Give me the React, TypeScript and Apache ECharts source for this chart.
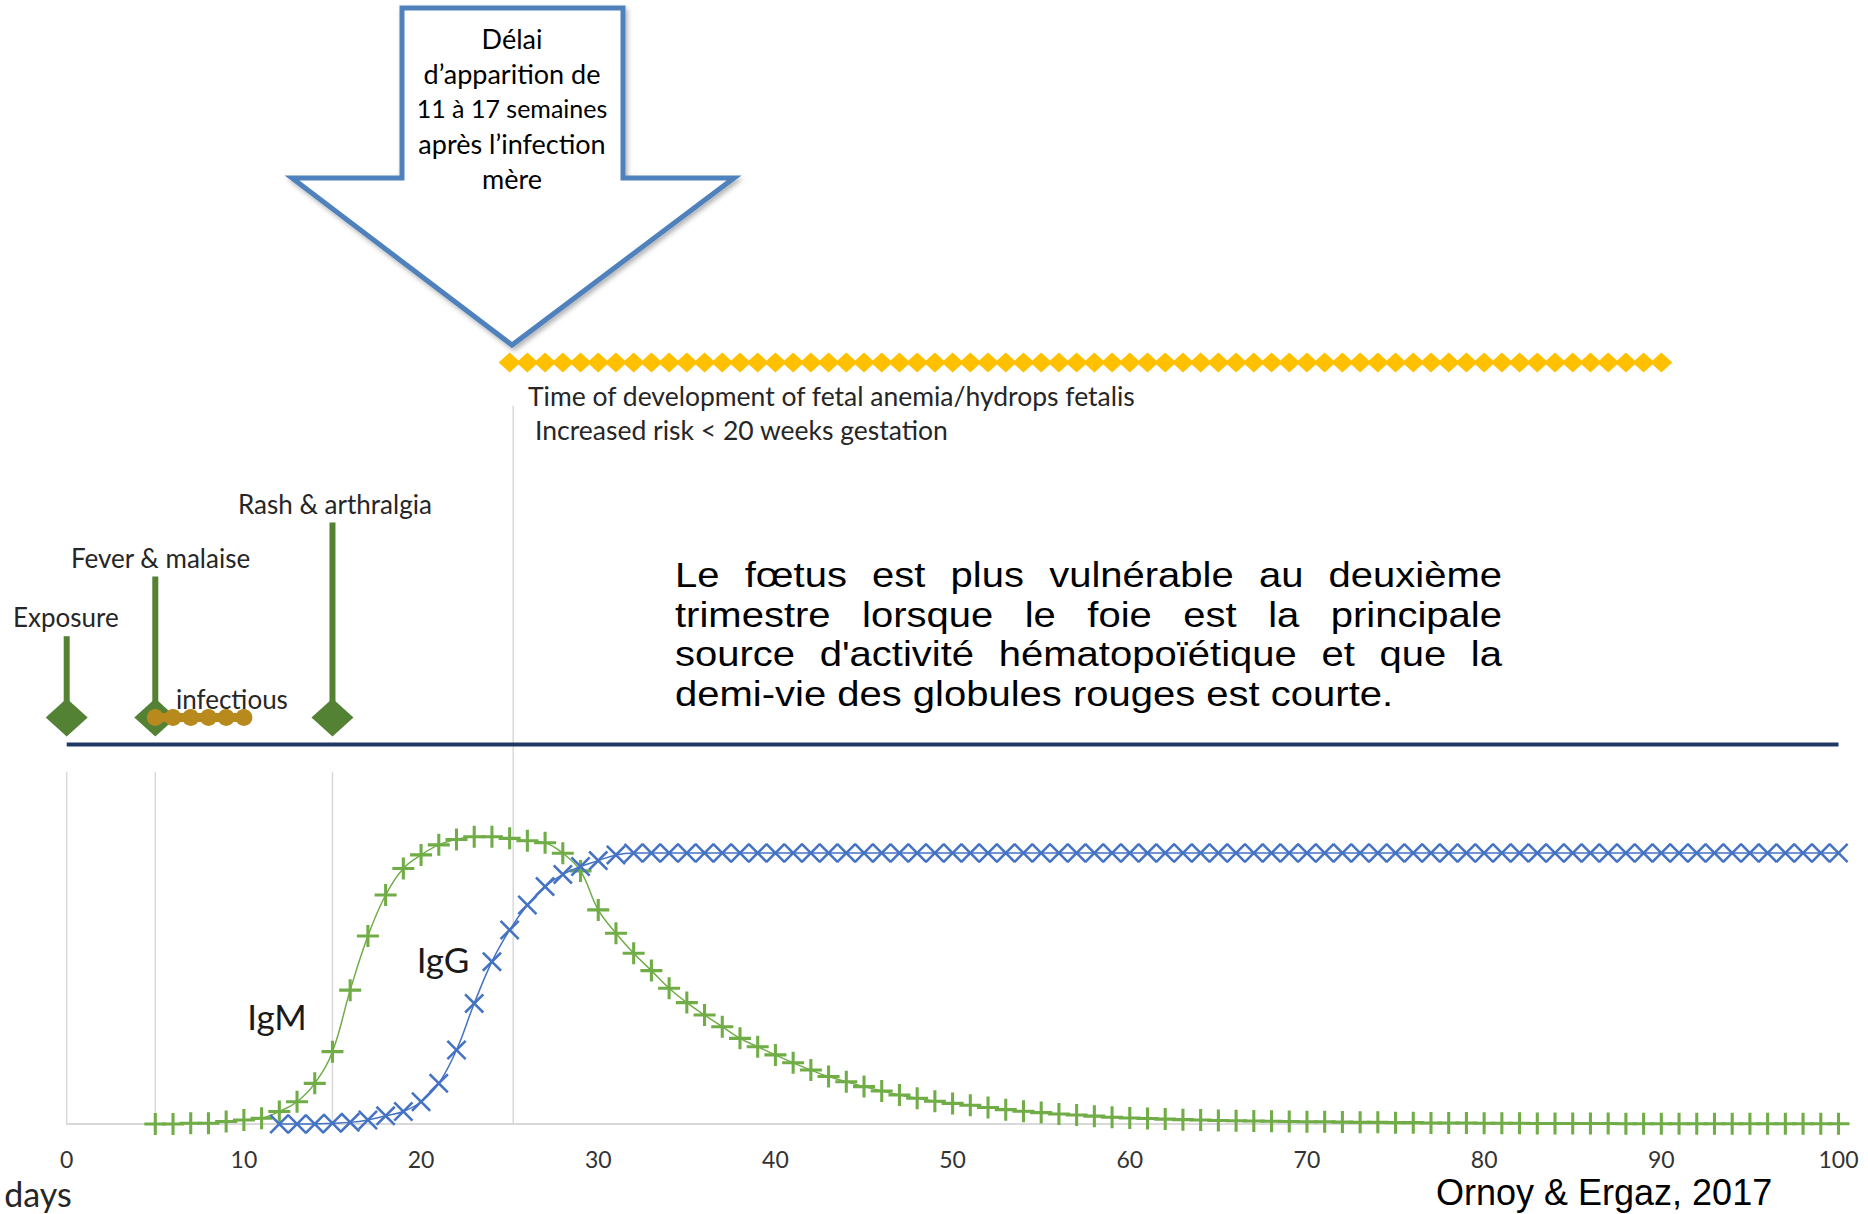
import React, { useEffect, useRef } from "react";
import * as echarts from "echarts";

// ---------- data ----------
const xMin = 0;
const xMax = 100;
const xStep = 10;

// IgM level, one value per day starting at day 5
const igmFirstDay = 5;
const igmValues = [
  0, 0, 0.3, 0.3, 0.9, 1.5, 2.1, 4.6, 8.2, 15, // 5-14
  26.7, 49.4, 69.4, 84.5, 94.3, 99.3, 103, 105, 106, 106, // 15-24
  105.4, 104.5, 103.8, 99.9, 93.4, 79, 70.4, 63, 56.6, 50.1, // 25-34
  44.8, 40.2, 35.9, 31.6, 28.5, 25.5, 22.6, 19.9, 17.5, 15.6, // 35-44
  13.8, 12.2, 10.7, 9.5, 8.4, 7.6, 6.9, 6.1, 5.3, 4.7, // 45-54
  4.2, 3.7, 3.3, 2.9, 2.5, 2.2, 2.0, 1.8, 1.6, 1.5, // 55-64
  1.3, 1.2, 1.1, 1.0, 0.9, 0.8, 0.8, 0.7, 0.6, 0.6, // 65-74
  0.5, 0.5, 0.4, 0.4, 0.4, 0.3, 0.3, 0.3, 0.2, 0.2, // 75-84
  0.2, 0.2, 0.2, 0.1, 0.1, 0.1, 0.1, 0.1, 0.1, 0.1, // 85-94
  0.1, 0.1, 0.1, 0.1, 0.1, 0.1, // 95-100
];

// IgG level, one value per day starting at day 12
const iggFirstDay = 12;
const iggValues = [
  0, 0, 0, 0.3, 0.6, 1.5, 3.0, 4.6, 8.2, 15, // 12-21
  27.3, 44.5, 59.9, 71.6, 80.8, 87.6, 92.1, 95, 97.2, 99.3, // 22-31
  100, 100, 100, 100, 100, 100, 100, 100, 100, 100, // 32-41
  100, 100, 100, 100, 100, 100, 100, 100, 100, 100, // 42-51
  100, 100, 100, 100, 100, 100, 100, 100, 100, 100, // 52-61
  100, 100, 100, 100, 100, 100, 100, 100, 100, 100, // 62-71
  100, 100, 100, 100, 100, 100, 100, 100, 100, 100, // 72-81
  100, 100, 100, 100, 100, 100, 100, 100, 100, 100, // 82-91
  100, 100, 100, 100, 100, 100, 100, 100, 100, // 92-100
];

// clinical events (timeline above the antibody curves)
const eventDays = [0, 5, 15];
const eventNames = ["Exposure", "Fever & malaise", "Rash & arthralgia"];
const eventStemTops = [180, 202, 222];
const eventLevel = 150;

const infectiousDays = [5, 6, 7, 8, 9, 10];
const infectiousLevel = 150;

const timelineStart = 0;
const timelineEnd = 100;
const timelineLevel = 140;

const anemiaFirstDay = 25;
const anemiaLastDay = 90;
const anemiaLevel = 281;

const guideDays = [0, 5, 15, 25.2];
const guideTops = [130, 130, 130, 265];

const arrowLines = ["Délai", "d\u2019apparition de", "11 à 17 semaines", "après l\u2019infection", "mère"];
const anemiaTitle = "Time of development of fetal anemia/hydrops fetalis";
const anemiaSubtitle = "Increased risk < 20 weeks gestation";
const paragraphLines = [
  "Le fœtus est plus vulnérable au deuxième",
  "trimestre lorsque le foie est la principale",
  "source d'activité hématopoïétique et que la",
  "demi-vie des globules rouges est courte.",
];
const citation = "Ornoy & Ergaz, 2017";

// ---------- styling ----------
const CAL = "Lato";
const ARIAL = "Liberation Sans";
const GREEN = "#70AD47";
const BLUE = "#4472C4";
const DARK_GREEN = "#548235";
const GOLD = "#B8891C";
const YELLOW = "#FFC000";
const NAVY = "#203864";
const GRID_GRAY = "#D9D9D9";

const PLUS = "path://M8.6,0L11.4,0L11.4,8.6L20,8.6L20,11.4L11.4,11.4L11.4,20L8.6,20L8.6,11.4L0,11.4L0,8.6L8.6,8.6Z";
const CROSS = "path://M0,1.8L1.8,0L10,8.2L18.2,0L20,1.8L11.8,10L20,18.2L18.2,20L10,11.8L1.8,20L0,18.2L8.2,10Z";

function txt(
  text: string,
  x: number,
  y: number,
  size: number,
  family: string,
  fill: string,
  align = "left",
  z = 10,
  lineHeight?: number,
  scaleX?: number
) {
  const style: any = {
    text,
    fontSize: size,
    fontFamily: family,
    fill,
    align,
    verticalAlign: "middle",
    textAlign: align,
    textVerticalAlign: "middle",
  };
  if (lineHeight) style.lineHeight = lineHeight;
  const el: any = { type: "text", x, y, z, silent: true, style };
  if (scaleX) el.scaleX = scaleX;
  return el;
}

function buildParagraph(): any[] {
  const left = 675;
  const right = 1502;
  const size = 35;
  const stretch = 40 / 35;
  const lineGap = 39.5;
  const firstMid = 575;
  const out: any[] = [];
  const canvas = document.createElement("canvas");
  const ctx = canvas.getContext("2d")!;
  ctx.font = `${size}px "${ARIAL}"`;
  paragraphLines.forEach((line, li) => {
    const y = firstMid + li * lineGap;
    const last = li === paragraphLines.length - 1;
    if (last) {
      out.push(txt(line, left, y, size, ARIAL, "#000", "left", 10, 36, stretch));
      return;
    }
    const words = line.split(" ");
    const widths = words.map((w) => ctx.measureText(w).width * stretch);
    const total = widths.reduce((a, b) => a + b, 0);
    const gap = (right - left - total) / (words.length - 1);
    let x = left;
    words.forEach((w, wi) => {
      out.push(txt(w, x, y, size, ARIAL, "#000", "left", 10, 36, stretch));
      x += widths[wi] + gap;
    });
  });
  return out;
}

export default function App() {
  const ref = useRef<HTMLDivElement>(null);

  useEffect(() => {
    document.body.style.margin = "0";
    const chart = echarts.init(ref.current!, null, { renderer: "svg" });

    const igmData = igmValues.map((v, i) => [igmFirstDay + i, v]);
    const iggData = iggValues.map((v, i) => [iggFirstDay + i, v]);
    const anemiaData: number[][] = [];
    for (let d = anemiaFirstDay; d <= anemiaLastDay; d++) anemiaData.push([d, anemiaLevel]);

    const series: any[] = [];

    guideDays.forEach((d, i) => {
      series.push({
        type: "line",
        data: [[d, 0], [d, guideTops[i]]],
        symbol: "none",
        silent: true,
        clip: false,
        z: 1,
        lineStyle: { color: GRID_GRAY, width: 1.5 },
      });
    });

    series.push({
      type: "line",
      data: [[timelineStart, timelineLevel], [timelineEnd, timelineLevel]],
      symbol: "none",
      silent: true,
      clip: false,
      z: 2,
      lineStyle: { color: NAVY, width: 4 },
    });

    eventDays.forEach((d, i) => {
      series.push({
        type: "line",
        data: [[d, eventLevel], [d, eventStemTops[i]]],
        symbol: "none",
        silent: true,
        clip: false,
        z: 3,
        lineStyle: { color: DARK_GREEN, width: 6 },
      });
    });

    series.push({
      type: "scatter",
      data: eventDays.map((d) => [d, eventLevel]),
      symbol: "diamond",
      symbolSize: [42, 38],
      silent: true,
      clip: false,
      z: 4,
      itemStyle: { color: DARK_GREEN, opacity: 1 },
    });

    series.push({
      type: "line",
      data: infectiousDays.map((d) => [d, infectiousLevel]),
      symbol: "circle",
      symbolSize: 17,
      showAllSymbol: true,
      silent: true,
      clip: false,
      z: 5,
      lineStyle: { color: GOLD, width: 9 },
      itemStyle: { color: GOLD, borderWidth: 0 },
    });

    series.push({
      type: "scatter",
      data: anemiaData,
      symbol: "diamond",
      symbolSize: [22, 20],
      silent: true,
      clip: false,
      z: 4,
      itemStyle: { color: YELLOW, opacity: 1 },
    });

    series.push({
      type: "line",
      name: "IgM",
      data: igmData,
      smooth: 0.4,
      symbol: PLUS,
      symbolSize: 22,
      showAllSymbol: true,
      silent: true,
      clip: false,
      z: 6,
      lineStyle: { color: GREEN, width: 1.5 },
      itemStyle: { color: GREEN, borderWidth: 0 },
    });

    series.push({
      type: "line",
      name: "IgG",
      data: iggData,
      smooth: 0.4,
      symbol: CROSS,
      symbolSize: 20,
      showAllSymbol: true,
      silent: true,
      clip: false,
      z: 7,
      lineStyle: { color: BLUE, width: 1.5 },
      itemStyle: { color: BLUE, borderWidth: 0 },
    });

    const textColor = "#262626";
    const arrowSizes = [27, 27, 25, 27, 27];
    const graphics: any[] = [
      {
        type: "polygon",
        z: 20,
        silent: true,
        shape: {
          points: [[402, 8], [623, 8], [623, 178], [734, 178], [512, 345], [292, 178], [402, 178]],
        },
        style: {
          fill: "#ffffff",
          stroke: "#4F81BD",
          lineWidth: 5,
          lineJoin: "miter",
          shadowBlur: 5,
          shadowColor: "rgba(0,0,0,0.3)",
          shadowOffsetX: 2,
          shadowOffsetY: 3,
        },
      },
      ...arrowLines.map((l, i) => txt(l, 512, 38 + i * 35, arrowSizes[i], CAL, "#000", "center", 21, 32)),
      ...eventNames.map((n, i) => txt(n, [13, 71, 238][i], [617, 558, 504][i], 26, CAL, textColor)),
      txt("infectious", 176, 699, 26, CAL, textColor),
      txt(anemiaTitle, 528, 396, 26.5, CAL, textColor, "left", 10, 30),
      txt(anemiaSubtitle, 535, 430, 26.5, CAL, textColor, "left", 10, 30),
      txt("IgM", 277, 1016, 35, CAL, "#1a1a1a", "center"),
      txt("IgG", 443, 959, 35, CAL, "#1a1a1a", "center"),
      txt("days", 38, 1193, 34, CAL, textColor, "center"),
      txt(citation, 1436, 1192, 36, ARIAL, "#000", "left", 10, 40),
      ...buildParagraph(),
    ];

    chart.setOption({
      animation: false,
      backgroundColor: "#ffffff",
      grid: { left: 66.7, right: 29.5, top: 40, bottom: 90, containLabel: false },
      xAxis: {
        type: "value",
        min: xMin,
        max: xMax,
        interval: xStep,
        axisLine: { show: true, onZero: false, lineStyle: { color: GRID_GRAY, width: 2 } },
        axisTick: { show: false },
        splitLine: { show: false },
        axisLabel: { fontSize: 23, color: "#333333", fontFamily: CAL, margin: 23, showMinLabel: true, showMaxLabel: true },
      },
      yAxis: { type: "value", min: 0, max: 400, show: false },
      series,
      graphic: graphics,
    });

    return () => chart.dispose();
  }, []);

  return <div ref={ref} style={{ width: 1868, height: 1214 }} />;
}
